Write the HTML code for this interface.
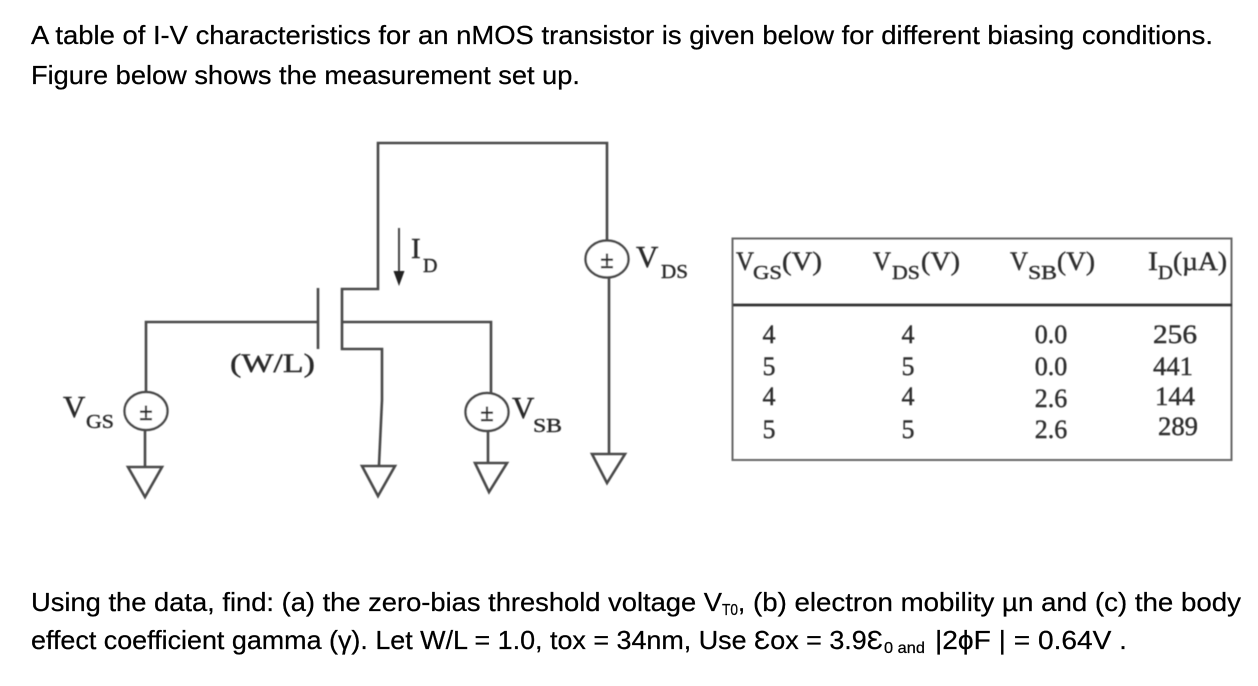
<!DOCTYPE html>
<html>
<head>
<meta charset="utf-8">
<style>
html,body{margin:0;padding:0;background:#fff;width:1258px;height:686px;overflow:hidden}
svg{display:block}
.b{font-family:"Liberation Sans",sans-serif;font-size:26px;fill:#000;stroke:#000;stroke-width:.25px}
.s{font-family:"Liberation Serif",serif;fill:#2a2a2a;stroke:#2a2a2a;stroke-width:.4px}
.w{fill:none;stroke:#4a4a4a;stroke-width:2.6;stroke-linejoin:miter}
.c{fill:#fff;stroke:#4a4a4a;stroke-width:2.4}
.t{font-family:"Liberation Serif",serif;font-size:26px;fill:#2e2e2e;stroke:#2e2e2e;stroke-width:.4px}
.t .u{font-size:20px}
.m{text-anchor:middle}
</style>
</head>
<body>
<svg width="1258" height="686" viewBox="0 0 1258 686" xmlns="http://www.w3.org/2000/svg">
<defs><filter id="f" x="-2%" y="-2%" width="104%" height="104%"><feGaussianBlur stdDeviation="0.5"/></filter></defs>

<text class="b" x="31" y="44" textLength="1182" lengthAdjust="spacingAndGlyphs">A table of I-V characteristics for an nMOS transistor is given below for different biasing conditions.</text>
<text class="b" x="31" y="84" textLength="549" lengthAdjust="spacingAndGlyphs">Figure below shows the measurement set up.</text>

<g filter="url(#f)">
<!-- gate -->
<path class="w" d="M146 392V322H317"/>
<path class="w" d="M318 288V349"/>
<!-- channel, drain, source, bulk -->
<path class="w" d="M607 240V143H378V289H342V349H382V400L379 465"/>
<path class="w" d="M342 322H491V393"/>
<path class="w" d="M488 431V463"/>
<path class="w" d="M609 278V454"/>
<path class="w" d="M145 430V467"/>
<!-- sources -->
<ellipse class="c" cx="146" cy="411" rx="21.500" ry="19"/>
<ellipse class="c" cx="487" cy="412" rx="21.500" ry="19"/>
<ellipse class="c" cx="607" cy="259" rx="21.500" ry="18.500"/>
<g class="s" font-size="25" font-weight="bold" text-anchor="middle">
<text x="146" y="420">±</text>
<text x="487" y="421">±</text>
<text x="607" y="268">±</text>
</g>
<!-- grounds -->
<path class="w" d="M128 467H162L145 497Z"/>
<path class="w" d="M362 466H395L378 496Z"/>
<path class="w" d="M475 463H507L489 492Z"/>
<path class="w" d="M592 454H625L607 483Z"/>
<!-- ID arrow -->
<path d="M399 228V274" stroke="#444" stroke-width="2" fill="none"/>
<path d="M393.500 271H404.500L399 286Z" fill="#222"/>

<!-- diagram labels -->
<text class="s" x="411" y="258" font-size="29">I</text>
<text class="s" x="423" y="272" font-size="20">D</text>
<text class="s" x="230" y="372" font-size="26" textLength="85" lengthAdjust="spacingAndGlyphs">(W/L)</text>
<text class="s" x="63" y="417" font-size="31">V</text>
<text class="s" x="86" y="428" font-size="20" textLength="28" lengthAdjust="spacingAndGlyphs">GS</text>
<text class="s" x="512" y="418" font-size="31">V</text>
<text class="s" x="533" y="432" font-size="20" textLength="29" lengthAdjust="spacingAndGlyphs">SB</text>
<text class="s" x="636" y="267" font-size="31">V</text>
<text class="s" x="661" y="278" font-size="20" textLength="27" lengthAdjust="spacingAndGlyphs">DS</text>

<!-- table -->
<rect x="732.500" y="238.500" width="499" height="221.500" fill="none" stroke="#666" stroke-width="2"/>
<path d="M733 305H1232" stroke="#333" stroke-width="2.800"/>
<g class="t">
<text x="736" y="270" textLength="18" lengthAdjust="spacingAndGlyphs">V</text><text class="u" x="753" y="279" textLength="29" lengthAdjust="spacingAndGlyphs">GS</text><text x="782" y="270" textLength="40" lengthAdjust="spacingAndGlyphs">(V)</text>
<text x="873" y="270" textLength="18" lengthAdjust="spacingAndGlyphs">V</text><text class="u" x="892" y="279" textLength="28" lengthAdjust="spacingAndGlyphs">DS</text><text x="921" y="270" textLength="39" lengthAdjust="spacingAndGlyphs">(V)</text>
<text x="1010" y="270" textLength="18" lengthAdjust="spacingAndGlyphs">V</text><text class="u" x="1028" y="279" textLength="29" lengthAdjust="spacingAndGlyphs">SB</text><text x="1057" y="270" textLength="38" lengthAdjust="spacingAndGlyphs">(V)</text>
<text x="1148" y="270" textLength="10" lengthAdjust="spacingAndGlyphs">I</text><text class="u" x="1158" y="279" textLength="15" lengthAdjust="spacingAndGlyphs">D</text><text x="1173" y="270" textLength="54" lengthAdjust="spacingAndGlyphs">(µA)</text>
<text class="m" x="769" y="343">4</text>
<text class="m" x="769" y="375">5</text>
<text class="m" x="769" y="405">4</text>
<text class="m" x="769" y="438">5</text>
<text class="m" x="908" y="343">4</text>
<text class="m" x="908" y="375">5</text>
<text class="m" x="908" y="405">4</text>
<text class="m" x="908" y="438">5</text>
<text class="m" x="1051" y="343">0.0</text>
<text class="m" x="1051" y="375">0.0</text>
<text class="m" x="1051" y="407">2.6</text>
<text class="m" x="1051" y="438">2.6</text>
<text x="1153" y="343" textLength="44" lengthAdjust="spacingAndGlyphs">256</text>
<text x="1153" y="375" textLength="40" lengthAdjust="spacingAndGlyphs">441</text>
<text x="1155" y="405" textLength="40" lengthAdjust="spacingAndGlyphs">144</text>
<text x="1158" y="435" textLength="40" lengthAdjust="spacingAndGlyphs">289</text>
</g>
</g>

<!-- bottom text -->
<text class="b" x="31" y="611" textLength="691" lengthAdjust="spacingAndGlyphs">Using the data, find: (a) the zero-bias threshold voltage V</text>
<text class="b" x="722" y="615" style="font-size:16px" textLength="16" lengthAdjust="spacingAndGlyphs">T0</text>
<text class="b" x="738" y="611">,</text>
<text class="b" x="753" y="611" textLength="488" lengthAdjust="spacingAndGlyphs">(b) electron mobility µn and (c) the body</text>
<text class="b" x="31" y="649" textLength="852" lengthAdjust="spacingAndGlyphs">effect coefficient gamma (γ). Let W/L = 1.0, tox = 34nm, Use Ɛox = 3.9Ɛ</text>
<text class="b" x="884" y="653" style="font-size:16px" textLength="41" lengthAdjust="spacingAndGlyphs">0 and</text>
<text class="b" x="935" y="649" textLength="192" lengthAdjust="spacingAndGlyphs">|2ϕF | = 0.64V .</text>
</svg>
</body>
</html>
